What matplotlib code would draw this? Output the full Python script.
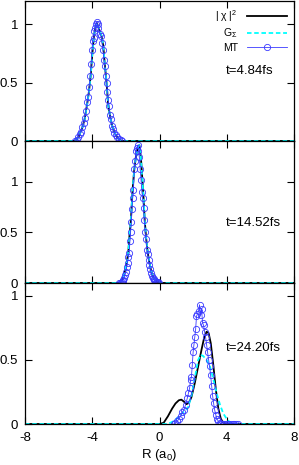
import matplotlib
matplotlib.use('Agg')
from matplotlib import pyplot as plt

plt.rcParams['font.family'] = ['Liberation Sans', 'DejaVu Sans']
plt.rcParams['mathtext.default'] = 'regular'

# panel 1 (t=4.84fs)
chi1_x = [-8, -5.0, -4.8, -4.6, -4.45, -4.3, -4.2, -4.1, -4.0, -3.9, -3.8, -3.72, -3.6, -3.45, -3.35,
          -3.25, -3.15, -3.05, -2.95, -2.8, -2.6, -2.4, -2.2, 8]
chi1_y = [0, 0, 0.04, 0.11, 0.19, 0.32, 0.42, 0.55, 0.74, 0.90, 0.98, 1.01, 0.96, 0.90, 0.82,
          0.65, 0.50, 0.31, 0.22, 0.12, 0.05, 0.01, 0, 0]
g1_y = chi1_y
mt1_x = [-5.0, -4.92, -4.85, -4.75, -4.68, -4.6, -4.52, -4.45, -4.38, -4.3, -4.25, -4.18, -4.12, -4.06,
         -4.02, -3.97, -3.92, -3.87, -3.82, -3.77, -3.73, -3.68, -3.63, -3.55, -3.47, -3.42, -3.36, -3.3,
         -3.25, -3.2, -3.15, -3.1, -3.05, -3.0, -2.95, -2.9, -2.82, -2.75, -2.68, -2.6, -2.5, -2.4, -2.3, -2.22]
mt1_y = [0.0, 0.01, 0.03, 0.06, 0.08, 0.12, 0.15, 0.2, 0.26, 0.33, 0.38, 0.46, 0.56, 0.66,
         0.78, 0.86, 0.88, 0.94, 0.97, 1.0, 1.02, 1.0, 0.97, 0.92, 0.90, 0.84, 0.78, 0.69,
         0.64, 0.56, 0.5, 0.42, 0.35, 0.3, 0.22, 0.19, 0.13, 0.1, 0.07, 0.05, 0.03, 0.02, 0.01, 0.0]

# panel 2 (t=14.52fs)
chi2_x = [-8, -2.4, -2.2, -2.05, -1.95, -1.85, -1.78, -1.7, -1.6, -1.5, -1.4, -1.3, -1.2, -1.1, -1.02,
          -0.95, -0.88, -0.8, -0.7, -0.6, -0.5, -0.35, -0.2, 0.05, 8]
chi2_y = [0, 0, 0.04, 0.12, 0.20, 0.31, 0.48, 0.62, 0.92, 1.12, 1.25, 1.33, 1.36, 1.22, 1.02,
          0.84, 0.62, 0.45, 0.30, 0.20, 0.12, 0.05, 0.02, 0, 0]
g2_y = chi2_y
mt2_x = [-2.4, -2.35, -2.3, -2.25, -2.2, -2.15, -2.1, -2.05, -2.0, -1.95, -1.9, -1.85, -1.8, -1.76,
         -1.72, -1.68, -1.64, -1.6, -1.55, -1.5, -1.45, -1.4, -1.35, -1.3, -1.25, -1.2, -1.15, -1.1,
         -1.05, -1.0, -0.95, -0.9, -0.85, -0.8, -0.75, -0.7, -0.65, -0.6, -0.55, -0.5, -0.45, -0.4,
         -0.35, -0.3, -0.25, -0.2, -0.15, -0.1, -0.05]
mt2_y = [0, 0, 0, 0.01, 0.02, 0.03, 0.05, 0.08, 0.11, 0.16, 0.2, 0.26, 0.3, 0.41,
         0.5, 0.6, 0.73, 0.84, 0.92, 1.12, 1.2, 1.3, 1.33, 1.36, 1.3, 1.24, 1.12, 1.02,
         0.9, 0.84, 0.74, 0.62, 0.5, 0.43, 0.33, 0.29, 0.23, 0.18, 0.14, 0.1, 0.07, 0.05,
         0.04, 0.03, 0.02, 0.01, 0.01, 0.01, 0]

# panel 3 (t=24.20fs)
chi3_x = [-8, 0.0, 0.25, 0.5, 0.75, 0.95, 1.15, 1.3, 1.45, 1.6, 1.75, 1.9, 2.1, 2.3, 2.5, 2.65, 2.8,
          2.92, 3.05, 3.2, 3.35, 3.5, 3.65, 3.8, 4.0, 8]
chi3_y = [0, 0, 0.01, 0.06, 0.12, 0.16, 0.185, 0.19, 0.175, 0.155, 0.165, 0.21, 0.32, 0.45, 0.58, 0.67, 0.72,
          0.71, 0.63, 0.46, 0.27, 0.12, 0.04, 0.01, 0, 0]
g3_x = [-8, 0.5, 0.8, 1.1, 1.3, 1.5, 1.7, 1.9, 2.1, 2.3, 2.45, 2.6, 2.8, 3.0, 3.2, 3.4, 3.6, 3.8,
        4.0, 4.2, 4.4, 8]
g3_y = [0, 0, 0.02, 0.05, 0.08, 0.10, 0.13, 0.22, 0.36, 0.50, 0.54, 0.53, 0.50, 0.45, 0.35, 0.24, 0.15, 0.08,
        0.04, 0.01, 0, 0]
mt3_x = [0.85, 0.95, 1.05, 1.15, 1.25, 1.35, 1.45, 1.55, 1.65, 1.72, 1.79, 1.85, 1.9, 1.95, 2.0, 2.05,
         2.1, 2.15, 2.2, 2.26, 2.32, 2.38, 2.44, 2.5, 2.56, 2.62, 2.68, 2.74, 2.8, 2.86, 2.92, 2.98,
         3.04, 3.1, 3.16, 3.22, 3.28, 3.35, 3.42, 3.5, 3.58, 3.66, 3.75, 3.85, 3.95, 4.05, 4.15, 4.25,
         4.35, 4.45, 4.55, 4.65]
mt3_y = [0, 0.01, 0.02, 0.04, 0.06, 0.09, 0.11, 0.15, 0.2, 0.24, 0.28, 0.34, 0.37, 0.46, 0.56, 0.62,
         0.68, 0.74, 0.84, 0.86, 0.88, 0.93, 0.85, 0.9, 0.79, 0.77, 0.72, 0.68, 0.62, 0.56, 0.5, 0.45,
         0.38, 0.3, 0.22, 0.16, 0.11, 0.07, 0.04, 0.02, 0.01, 0.0, 0, 0, 0, 0, 0, 0,
         0, 0, 0, 0]

times = ['t=4.84fs', 't=14.52fs', 't=24.20fs']
ymax = [1.2, 1.4, 1.1]
text_y = [0.5, 0.42, 0.54]

panels = [
    (chi1_x, chi1_y, chi1_x, g1_y, mt1_x, mt1_y),
    (chi2_x, chi2_y, chi2_x, g2_y, mt2_x, mt2_y),
    (chi3_x, chi3_y, g3_x, g3_y, mt3_x, mt3_y),
]

fig = plt.figure(figsize=(2.99, 4.65), dpi=100)
left = 25 / 299
width = 269 / 299
edges = [(1, 141), (141, 283), (283, 424)]

for i, (cx, cy, gx, gy, mx, my) in enumerate(panels):
    top, bot = edges[i]
    ax = fig.add_axes([left, (465 - bot) / 465, width, (bot - top) / 465])
    ax.plot(cx, cy, color='black', lw=1.3, label='| χ |$^2$')
    ax.plot(gx, gy, color='cyan', lw=1.3, ls=(0, (2.5, 1.5)), label='G$_Σ$')
    ax.plot(mx, my, color='#3a3aff', lw=0.6, marker='o', ms=4.5, mfc='none', mew=0.6, label='MT')
    ax.set_xlim(-8, 8)
    ax.set_ylim(0, ymax[i])
    ax.set_xticks([-8, -4, 0, 4, 8])
    ax.set_yticks([0, 0.5, 1])
    ax.set_yticklabels(['0', '0.5', '1'])
    ax.tick_params(direction='in', top=True, right=True, length=5, width=0.8,
                   labelsize=9.5, pad=5)
    if i < 2:
        ax.tick_params(labelbottom=False)
    else:
        ax.set_xticklabels(['-8', '-4', '0', '4', '8'])
        ax.tick_params(axis='x', pad=6)
        ax.set_xlabel('R (a$_0$)', fontsize=9.5, labelpad=2)
    for s in ax.spines.values():
        s.set_linewidth(0.9)
    ax.text(0.747, text_y[i], times[i], transform=ax.transAxes, fontsize=9.5,
            ha='left', va='center')
    if i == 0:
        ax.legend(loc='upper right', frameon=False, markerfirst=False, fontsize=7.5,
                  handlelength=3.8, handletextpad=0.9, labelspacing=0.25,
                  borderaxespad=0.3, numpoints=1)

fig.savefig('out.png', dpi=100)
